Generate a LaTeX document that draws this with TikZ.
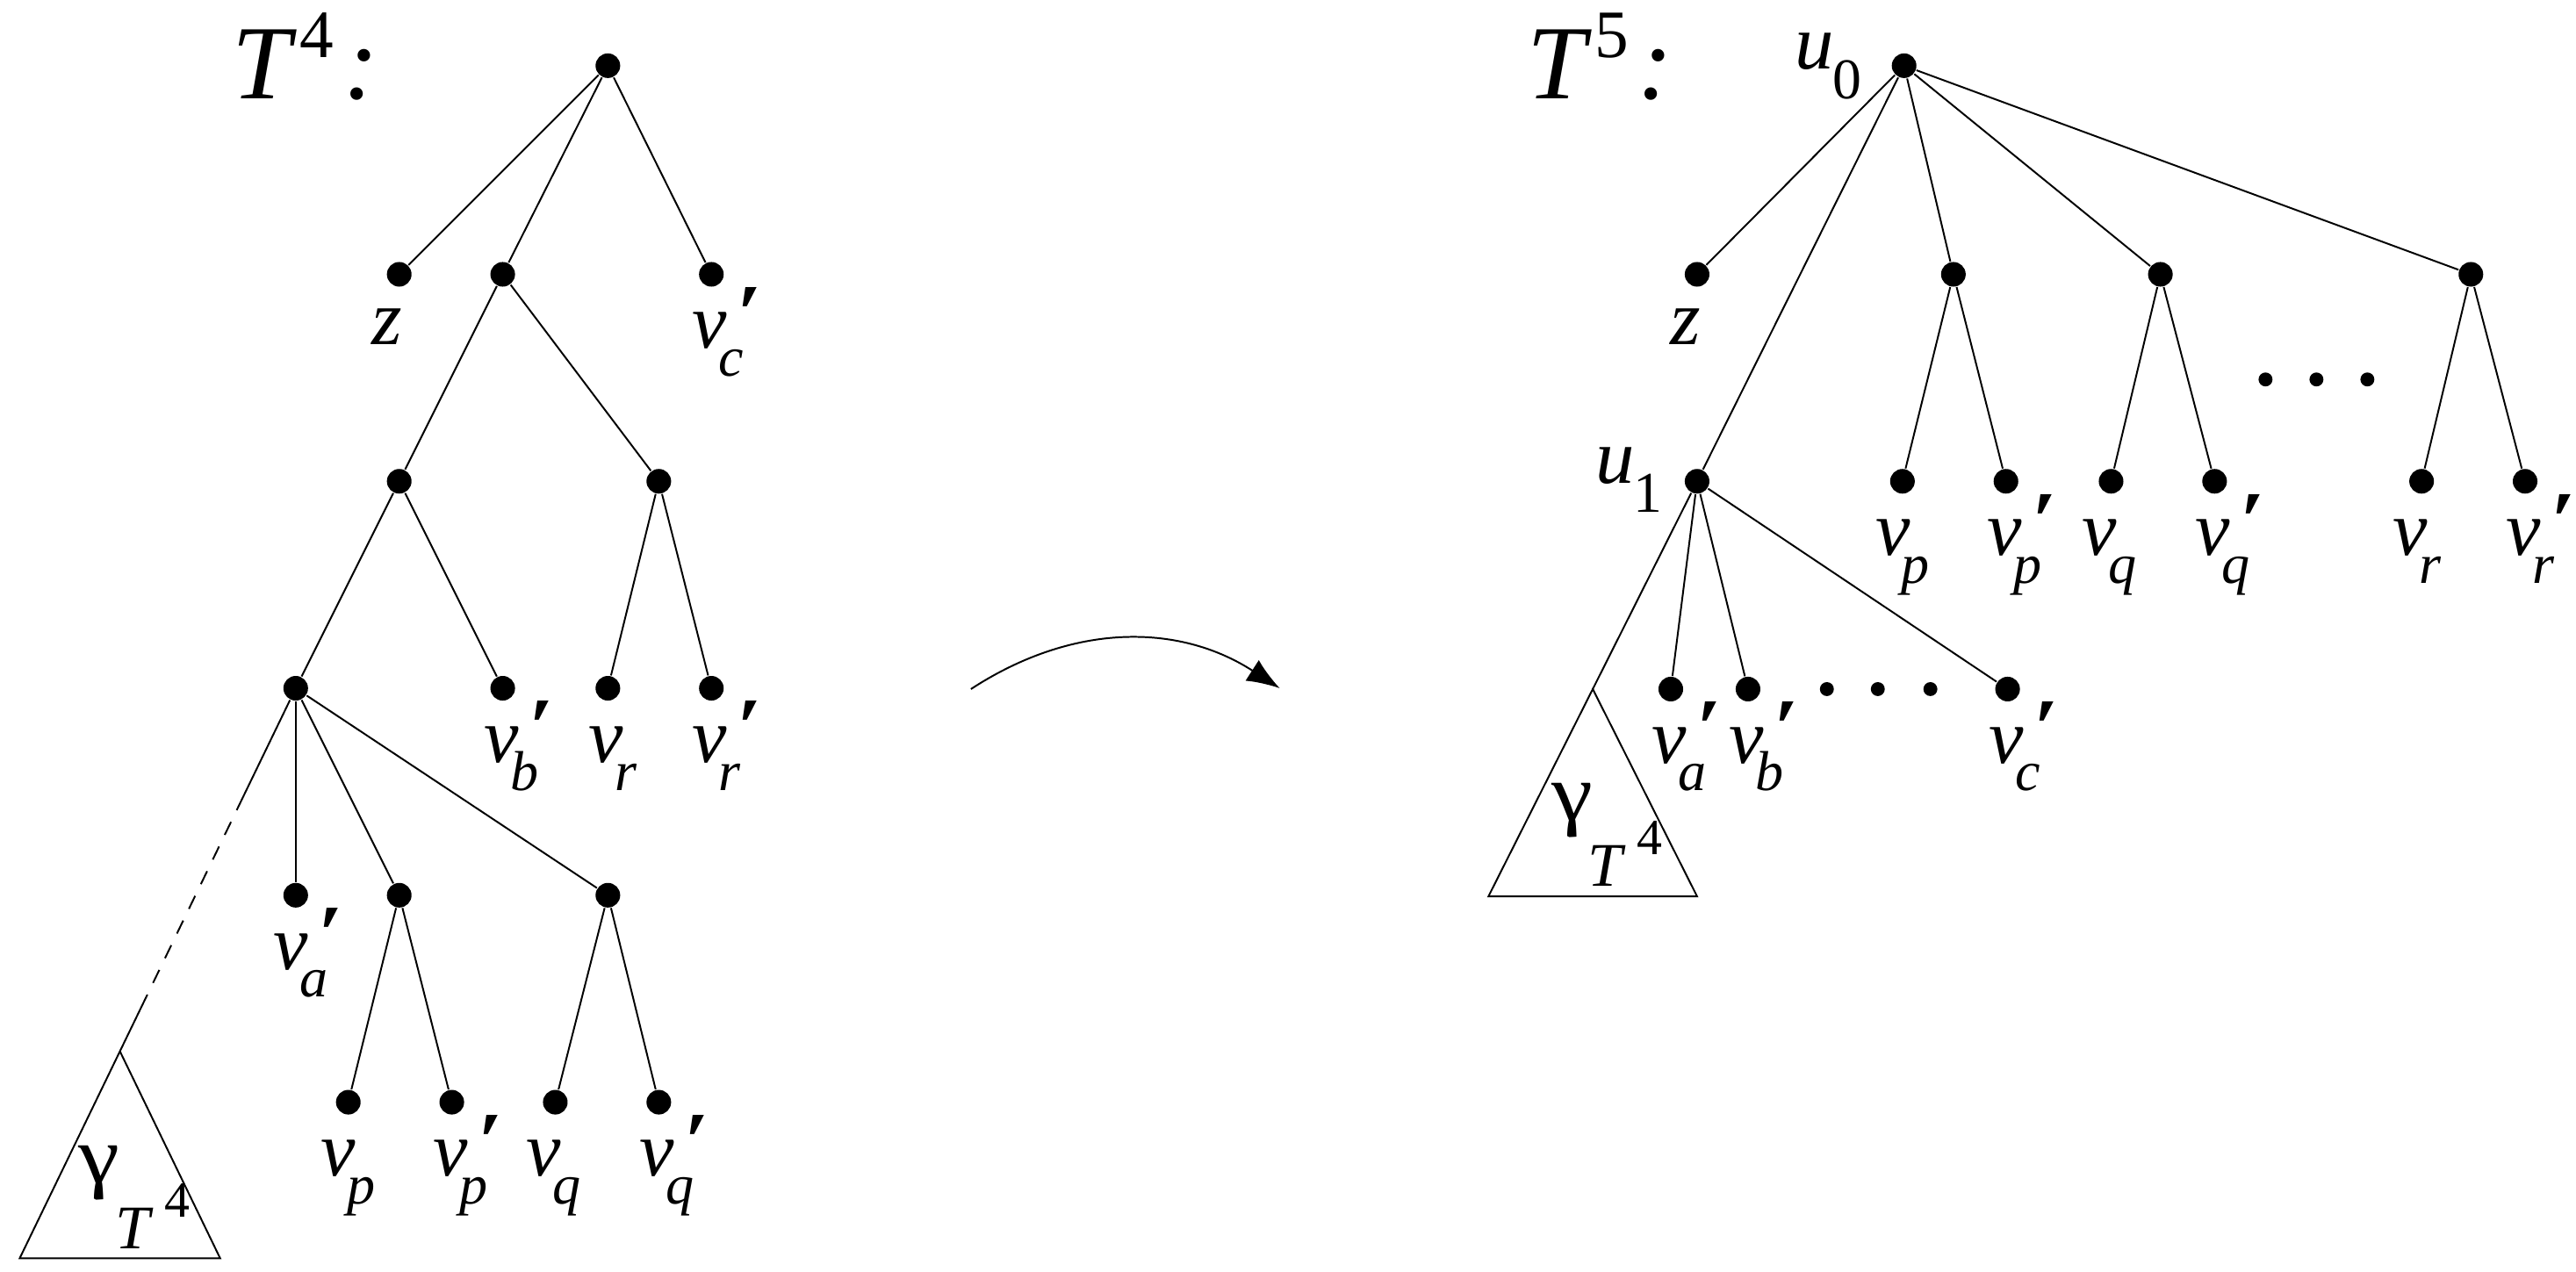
\documentclass[tikz,border=0pt]{standalone}
\usepackage{fontspec}
\setmainfont{Liberation Serif}
\usetikzlibrary{arrows.meta,calc}
% label v with optional prime (#1) and subscript (#2), subscript same style, lowered
\newcommand\vlab[2]{\rlap{v}\rlap{\kern0.32cm\raisebox{-0.34cm}{\fontsize{19.5}{19.5}\selectfont #2}}#1\kern0.6cm}
\newcommand\pr{\rlap{\kern0.46cm\raisebox{0.09cm}{\scalebox{1.5}[1.05]{′}}}}
\newcommand\ulab[1]{\rlap{u}\kern0.46cm\raisebox{-0.36cm}{\fontsize{20}{20}\selectfont\upshape #1}}
\newcommand\gamlab{\rlap{\upshape\fontsize{28}{28}\selectfont\scalebox{1.15}[1]{γ}}\rlap{\kern0.44cm\raisebox{-0.8cm}{\fontsize{21.5}{21.5}\selectfont\itshape T}}\kern1.04cm\raisebox{-0.42cm}{\fontsize{17.6}{17.6}\selectfont\upshape 4}}
\newcommand\ttlab[1]{\rlap{T}\kern0.82cm\raisebox{0.5cm}{\fontsize{23.5}{23.5}\selectfont\upshape #1}\kern0.12cm:}
\begin{document}
\begin{tikzpicture}[x=0.02cm,y=-0.02cm,line width=0.6pt,
  dot/.style={circle,fill,inner sep=0pt,minimum size=0.30cm},
  sdot/.style={circle,fill,inner sep=0pt,minimum size=0.17cm},
  lbl/.style={anchor=base west,inner sep=0pt,font=\fontsize{27}{27}\selectfont\itshape},
  ttl/.style={anchor=base west,inner sep=0pt,font=\fontsize{36.5}{36.5}\selectfont\itshape}]
\useasboundingbox (0,0) rectangle (1568,774);

% ---------- left tree T^4 ----------
\node[dot] (L0) at (370,40) {};
\node[dot] (Lz) at (243,167) {};
\node[dot] (LA) at (306,167) {};
\node[dot] (Lvc) at (433,167) {};
\node[dot] (LB) at (243,293) {};
\node[dot] (LC) at (401,293) {};
\node[dot] (LD) at (180,419) {};
\node[dot] (Lvb) at (306,419) {};
\node[dot] (Lvr) at (370,419) {};
\node[dot] (Lvrp) at (433,419) {};
\node[dot] (Lva) at (180,545) {};
\node[dot] (LE) at (243,545) {};
\node[dot] (LF) at (370,545) {};
\node[dot] (Lvp) at (212,671) {};
\node[dot] (Lvpp) at (275,671) {};
\node[dot] (Lvq) at (338,671) {};
\node[dot] (Lvqp) at (401,671) {};
\coordinate (LTa) at (73,640);
\coordinate (LTl) at (12,766);
\coordinate (LTr) at (134,766);
\coordinate (LDs) at ($(LD)!0.3!(LTa)$);
\coordinate (LDe) at ($(LD)!0.85!(LTa)$);

\draw (L0) -- (Lz);
\draw (L0) -- (LA);
\draw (L0) -- (Lvc);
\draw (LA) -- (LB);
\draw (LA) -- (LC);
\draw (LB) -- (LD);
\draw (LB) -- (Lvb);
\draw (LC) -- (Lvr);
\draw (LC) -- (Lvrp);
\draw (LD) -- (Lva);
\draw (LD) -- (LE);
\draw (LD) -- (LF);
\draw (LE) -- (Lvp);
\draw (LE) -- (Lvpp);
\draw (LF) -- (Lvq);
\draw (LF) -- (Lvqp);
\draw (LD) -- (LDs);
\draw[dash pattern=on 5pt off 4.5pt] (LDs) -- (LDe);
\draw (LDe) -- (LTa);
\draw (LTa) -- (LTl) -- (LTr) -- cycle;

\node[ttl] (Ltitle) at (141,60) {\ttlab{4}};
\node[lbl] (Lzl) at ([shift={(-17,43)}]Lz) {z};
\node[lbl] (Lvcl) at ([shift={(-12,45)}]Lvc) {\vlab{\pr}{c}};
\node[lbl] (Lvbl) at ([shift={(-12,45)}]Lvb) {\vlab{\pr}{b}};
\node[lbl] (Lvrl) at ([shift={(-12,45)}]Lvr) {\vlab{}{r}};
\node[lbl] (Lvrpl) at ([shift={(-12,45)}]Lvrp) {\vlab{\pr}{r}};
\node[lbl] (Lval) at ([shift={(-14,45)}]Lva) {\vlab{\pr}{a}};
\node[lbl] (Lvpl) at ([shift={(-17,45)}]Lvp) {\vlab{}{p}};
\node[lbl] (Lvppl) at ([shift={(-12,45)}]Lvpp) {\vlab{\pr}{p}};
\node[lbl] (Lvql) at ([shift={(-18,45)}]Lvq) {\vlab{}{q}};
\node[lbl] (Lvqpl) at ([shift={(-12,45)}]Lvqp) {\vlab{\pr}{q}};
\node[lbl] (Lgam) at ([shift={(-25.5,80)}]LTa) {\gamlab};

% ---------- arrow ----------
\coordinate (A1) at (591,419.5);
\coordinate (A2) at (779,419);
\draw[-{Latex[length=0.4cm,width=0.3cm]}] (A1) to[bend left=33] (A2);

% ---------- right tree T^5 ----------
\node[dot] (R0) at (1159,40) {};
\node[dot] (Rz) at (1033,167) {};
\node[dot] (R1) at (1189,167) {};
\node[dot] (R2) at (1315,167) {};
\node[dot] (R3) at (1504,167) {};
\node[dot] (Ru1) at (1033,293) {};
\node[dot] (Rvp) at (1158,293) {};
\node[dot] (Rvpp) at (1221,293) {};
\node[dot] (Rvq) at (1285,293) {};
\node[dot] (Rvqp) at (1348,293) {};
\node[dot] (Rvr) at (1474,293) {};
\node[dot] (Rvrp) at (1537,293) {};
\node[dot] (Rva) at (1017,419.5) {};
\node[dot] (Rvb) at (1064,419.5) {};
\node[dot] (Rvc) at (1222,419.5) {};
\node[sdot] (Re1) at (1379,231) {};
\node[sdot] (Re2) at (1410,231) {};
\node[sdot] (Re3) at (1441,231) {};
\node[sdot] (Rf1) at (1112,419.5) {};
\node[sdot] (Rf2) at (1143,419.5) {};
\node[sdot] (Rf3) at (1175,419.5) {};
\coordinate (RTa) at (969.5,419.5);
\coordinate (RTl) at (906,545.7);
\coordinate (RTr) at (1033,545.7);

\draw (R0) -- (Rz);
\draw (R0) -- (Ru1);
\draw (R0) -- (R1);
\draw (R0) -- (R2);
\draw (R0) -- (R3);
\draw (R1) -- (Rvp);
\draw (R1) -- (Rvpp);
\draw (R2) -- (Rvq);
\draw (R2) -- (Rvqp);
\draw (R3) -- (Rvr);
\draw (R3) -- (Rvrp);
\draw (Ru1) -- (Rva);
\draw (Ru1) -- (Rvb);
\draw (Ru1) -- (Rvc);
\draw (Ru1) -- (RTa);
\draw (RTa) -- (RTl) -- (RTr) -- cycle;

\node[ttl] (Rtitle) at (929,60) {\ttlab{5}};
\node[lbl] (Ru0l) at ([shift={(-67,2)}]R0) {\ulab{0}};
\node[lbl] (Ru1l) at ([shift={(-62,1)}]Ru1) {\ulab{1}};
\node[lbl] (Rzl) at ([shift={(-17,43)}]Rz) {z};
\node[lbl] (Rvpl) at ([shift={(-17,45)}]Rvp) {\vlab{}{p}};
\node[lbl] (Rvppl) at ([shift={(-12,45)}]Rvpp) {\vlab{\pr}{p}};
\node[lbl] (Rvql) at ([shift={(-18,45)}]Rvq) {\vlab{}{q}};
\node[lbl] (Rvqpl) at ([shift={(-12,45)}]Rvqp) {\vlab{\pr}{q}};
\node[lbl] (Rvrl) at ([shift={(-18,45)}]Rvr) {\vlab{}{r}};
\node[lbl] (Rvrpl) at ([shift={(-12,45)}]Rvrp) {\vlab{\pr}{r}};
\node[lbl] (Rval) at ([shift={(-12,45)}]Rva) {\vlab{\pr}{a}};
\node[lbl] (Rvbl) at ([shift={(-12,45)}]Rvb) {\vlab{\pr}{b}};
\node[lbl] (Rvcl) at ([shift={(-12,45)}]Rvc) {\vlab{\pr}{c}};
\node[lbl] (Rgam) at ([shift={(-25.5,80)}]RTa) {\gamlab};
\end{tikzpicture}
\end{document}
